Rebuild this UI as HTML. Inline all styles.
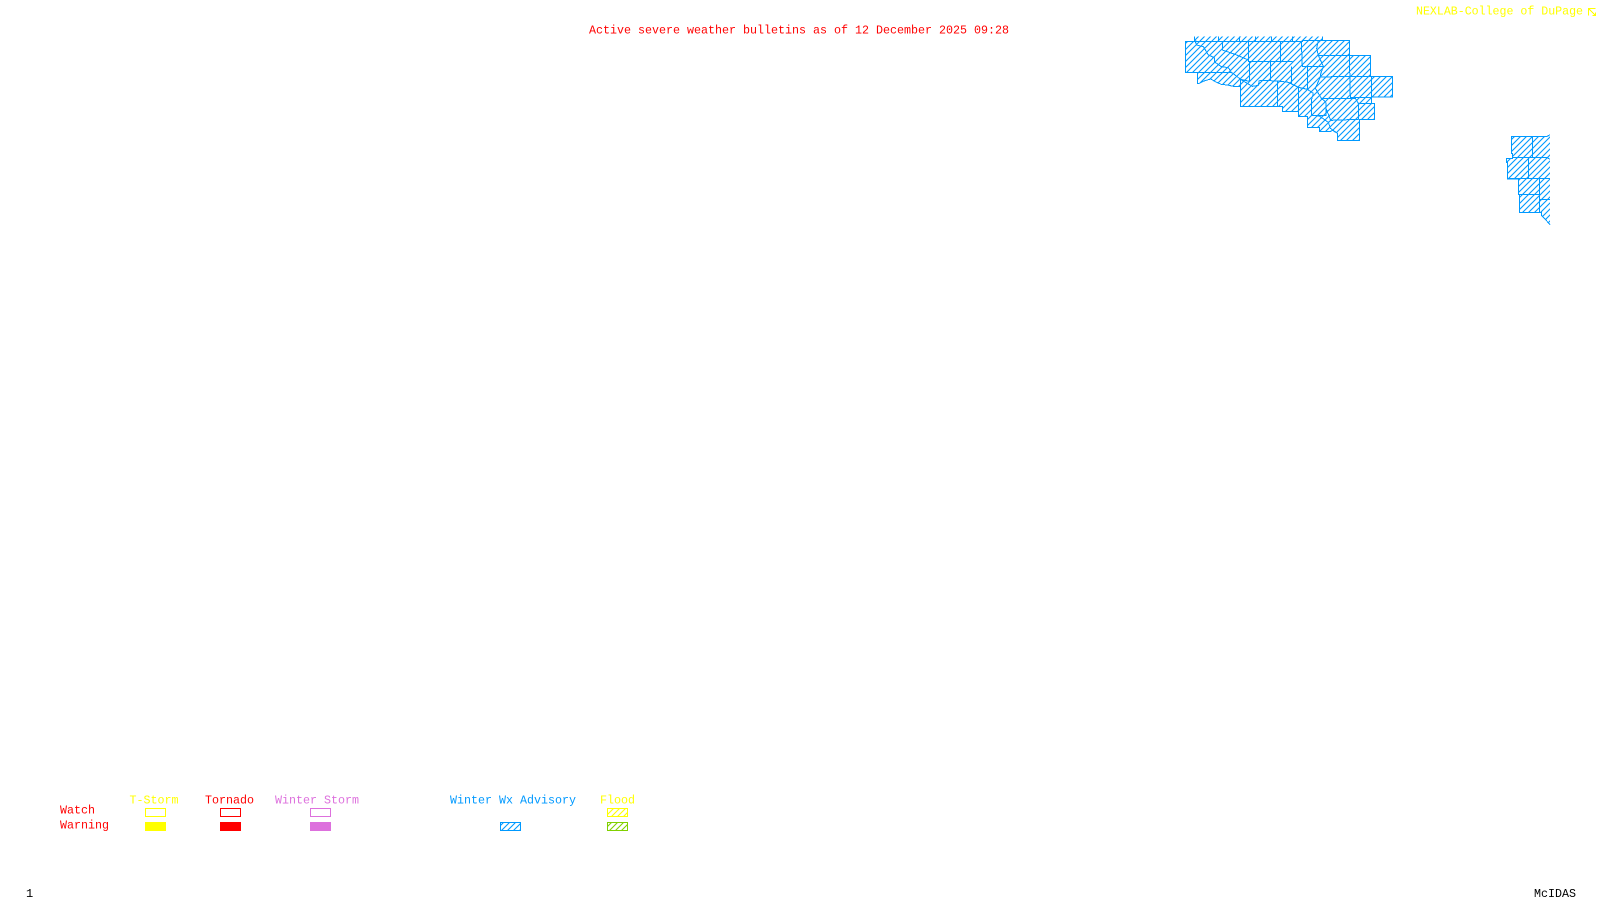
<!DOCTYPE html>
<html>
<head>
<meta charset="utf-8">
<title>Active severe weather bulletins</title>
<style>
html,body{margin:0;padding:0;background:#fff;width:1600px;height:900px;overflow:hidden}
svg{display:block}
text{font-family:"Liberation Mono",monospace;font-size:12px;white-space:pre}
</style>
</head>
<body>
<svg width="1600" height="900" viewBox="0 0 1600 900" xmlns="http://www.w3.org/2000/svg">
<defs>
<pattern id="hz" patternUnits="userSpaceOnUse" width="18" height="18">
<path d="M-3 3L3 -3M0 18L18 0M15 21L21 15" stroke="#0099ff" stroke-width="3.4" fill="none"/>
</pattern>
<pattern id="hb" patternUnits="userSpaceOnUse" width="6" height="6">
<path d="M-1 1L1 -1M0 6L6 0M5 7L7 5" stroke="#0099ff" stroke-width="1.1" fill="none"/>
</pattern>
<pattern id="hy" patternUnits="userSpaceOnUse" width="6" height="6">
<path d="M-1 1L1 -1M0 6L6 0M5 7L7 5" stroke="#ffff00" stroke-width="1.1" fill="none"/>
</pattern>
<pattern id="hg" patternUnits="userSpaceOnUse" width="6" height="6">
<path d="M-1 1L1 -1M0 6L6 0M5 7L7 5" stroke="#80d000" stroke-width="1.1" fill="none"/>
</pattern>
</defs>
<rect width="1600" height="900" fill="#fff"/>

<text x="589" y="33.5" fill="#ff0000" textLength="420" lengthAdjust="spacingAndGlyphs">Active severe weather bulletins as of 12 December 2025 09:28</text>
<text x="1416" y="14.5" fill="#ffff00" textLength="167" lengthAdjust="spacingAndGlyphs">NEXLAB-College of DuPage</text>
<g fill="none" stroke="#ffff00" stroke-width="1" shape-rendering="crispEdges">
<path d="M1595.5 8.5H1588.5V15.5M1588.5 8.5L1595.5 15.5M1592.5 15.5H1595.5V12.5"/>
</g>

<!-- Northern cluster -->
<g transform="translate(1150,25) scale(0.33333)" shape-rendering="crispEdges">
<polygon fill="url(#hz)" points="133,35 518,35 518,46 598,46 598,91 661,91 661,154 727,154 727,216 664,216 664,235 673,235 673,283 628,283 628,346 562,346 562,325 548,316 542,319 508,319 508,307 472,307 472,274 445,274 445,259 397,259 397,244 271,244 271,184 250,184 232,180 214,178 200,172 182,162 162,168 148,175 142,175 142,142 106,142 106,49 133,49"/>
<g fill="none" stroke="#0099ff" stroke-width="3">
<polygon points="106,49 457,49 457,46 598,46 598,91 661,91 661,154 727,154 727,216 664,216 664,235 673,235 673,283 628,283 628,346 562,346 562,325 548,316 542,319 508,319 508,307 472,307 472,274 445,274 445,259 397,259 397,244 271,244 271,184 250,184 232,180 214,178 200,172 182,162 162,168 148,175 142,175 142,142 106,142"/>
<path d="M133,35V46L139,49M205,35V49M268,35V49M316,35V49M364,35V49M427,35V49M518,35V46"/>
<polyline points="135,48 140,60 160,65 175,90 193,98 193,110 214,125 235,128 244,142 262,155 271,163 298,169"/>
<polyline points="106,142 244,142"/>
<polyline points="217,49 217,75 255,88 295,105 295,109"/>
<polyline points="295,49 295,109 298,109 298,169"/>
<polyline points="298,109 427,109"/>
<polyline points="391,49 391,109"/>
<polyline points="454,49 457,124 520,124"/>
<polyline points="361,109 361,166"/>
<polyline points="328,166 385,168 415,172 427,178 445,187 472,193"/>
<polyline points="424,124 424,178"/>
<polyline points="472,124 472,193 490,205"/>
<polyline points="505,46 500,70 505,91 598,91"/>
<polyline points="505,91 520,124 511,150 511,156 598,154 661,154"/>
<polyline points="598,91 601,217 664,217"/>
<polyline points="664,154 664,216"/>
<polyline points="511,156 496,190 514,220 528,232"/>
<polyline points="490,205 484,226 484,271 528,271 528,232"/>
<polyline points="445,187 445,274"/>
<polyline points="382,168 382,244"/>
<polyline points="514,220 616,220 625,235 625,283"/>
<polyline points="625,235 664,235"/>
<polyline points="528,250 542,286 625,283"/>
<polyline points="484,271 508,273 535,292 541,310 562,325"/>
<polyline points="271,163 271,184"/>
<polyline points="271,163 307,184 325,181 328,166"/>
<polyline points="616,220 616,217"/>
</g>
</g>

<!-- Eastern cluster -->
<g transform="translate(1490,125) scale(0.33333)" shape-rendering="crispEdges">
<polygon fill="url(#hz)" points="64,35 170,35 180,29 180,299 166,283 154,271 154,262 88,262 88,208 85,208 85,162 52,162 52,112 49,112 49,100 67,100 67,85 64,85"/>
<g fill="none" stroke="#0099ff" stroke-width="3">
<polyline points="180,29 170,35 64,35 64,85 67,85 67,100 49,100 49,112 52,112 52,162 85,162 85,208 88,208 88,262 154,262 154,271 166,283 180,299"/>
<polyline points="127,35 127,97"/>
<polyline points="67,98 172,98 180,103"/>
<polyline points="115,98 115,160"/>
<polyline points="52,161 180,161"/>
<polyline points="148,161 148,262"/>
<polyline points="85,208 148,208"/>
<polyline points="150,223 180,223"/>
</g>
</g>

<!-- Legend -->
<text x="129.5" y="803.5" fill="#ffff00" textLength="49" lengthAdjust="spacingAndGlyphs">T-Storm</text>
<text x="205" y="803.5" fill="#ff0000" textLength="49" lengthAdjust="spacingAndGlyphs">Tornado</text>
<text x="275" y="803.5" fill="#dd70dd" textLength="84" lengthAdjust="spacingAndGlyphs">Winter Storm</text>
<text x="450" y="803.5" fill="#0099ff" textLength="126" lengthAdjust="spacingAndGlyphs">Winter Wx Advisory</text>
<text x="600" y="803.5" fill="#ffff00" textLength="35" lengthAdjust="spacingAndGlyphs">Flood</text>
<text x="60" y="813.5" fill="#ff0000" textLength="35" lengthAdjust="spacingAndGlyphs">Watch</text>
<text x="60" y="828.5" fill="#ff0000" textLength="49" lengthAdjust="spacingAndGlyphs">Warning</text>

<g shape-rendering="crispEdges">
<rect x="145.5" y="808.5" width="20" height="8" fill="none" stroke="#ffff00"/>
<rect x="145" y="822" width="21" height="9" fill="#ffff00"/>
<rect x="220.5" y="808.5" width="20" height="8" fill="none" stroke="#ff0000"/>
<rect x="220" y="822" width="21" height="9" fill="#ff0000"/>
<rect x="310.5" y="808.5" width="20" height="8" fill="none" stroke="#dd70dd"/>
<rect x="310" y="822" width="21" height="9" fill="#dd70dd"/>
<rect x="500.5" y="822.5" width="20" height="8" fill="url(#hb)" stroke="#0099ff"/>
<rect x="607.5" y="808.5" width="20" height="8" fill="url(#hy)" stroke="#ffff00"/>
<rect x="607.5" y="822.5" width="20" height="8" fill="url(#hg)" stroke="#80d000"/>
</g>

<text x="26" y="897" fill="#000000">1</text>
<text x="1534" y="897" fill="#000000" textLength="42" lengthAdjust="spacingAndGlyphs">McIDAS</text>
</svg>
</body>
</html>
